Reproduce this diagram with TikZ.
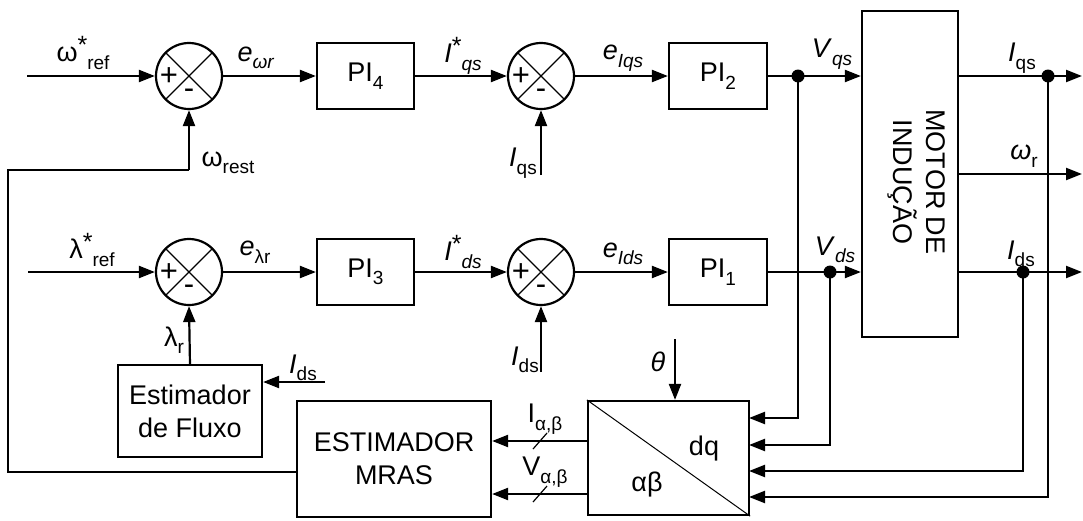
\documentclass[tikz,border=0pt]{standalone}
\usepackage{fontspec}
\setmainfont{Liberation Sans}
\usetikzlibrary{arrows.meta}
\newcommand\lsb[1]{\raisebox{-0.28em}{\fontsize{19}{19}\selectfont #1}}
\newcommand\lsp[1]{\raisebox{0.30em}{\fontsize{25}{25}\selectfont #1}}
\begin{document}
\begin{tikzpicture}[x=1pt,y=-1pt,
  line width=2.2pt,
  every node/.style={font=\fontsize{27}{33}\selectfont},
  blk/.style={draw, rectangle, inner sep=0pt, line width=2.2pt},
  sumnode/.style={draw, circle, inner sep=0pt, minimum size=66pt, line width=2.2pt},
  jdot/.style={circle, fill, inner sep=0pt, minimum size=13pt},
  arr/.style={-{Triangle[length=16pt,width=12pt]}},
  thin line/.style={line width=1.2pt},
  sgn/.style={font=\fontsize{31}{31}\selectfont, inner sep=0pt}]
\useasboundingbox (0,0) rectangle (1083,520);

% blocks
\node[blk, minimum width=97pt, minimum height=66pt] (pi4) at (365.5,76) {PI\lsb{4}};
\node[blk, minimum width=98pt, minimum height=66pt] (pi2) at (718,76) {PI\lsb{2}};
\node[blk, minimum width=97pt, minimum height=66pt] (pi3) at (365.5,272) {PI\lsb{3}};
\node[blk, minimum width=98pt, minimum height=66pt] (pi1) at (718,272) {PI\lsb{1}};
\node[blk, minimum width=96pt, minimum height=326pt] (motor) at (910,174) {};
\node[rotate=-90, align=center, inner sep=0pt] (mtxt) at (917,182) {MOTOR DE\\INDUÇÃO};
\node[blk, minimum width=144pt, minimum height=92pt, align=center] (flux) at (190,411) {Estimador\\de Fluxo};
\node[blk, minimum width=194pt, minimum height=116pt, align=center] (mras) at (394,459) {ESTIMADOR\\MRAS};
\node[blk, minimum width=161pt, minimum height=114pt] (dq) at (668.5,458) {};
\draw[line width=1pt] (dq.north west) -- (dq.south east);
\node (dqt) at (704,449) {dq};
\node (abt) at (647,485) {αβ};

% summing junctions
\foreach \n/\x/\y in {s1/189/76, s2/541/76, s3/189/272, s4/541/272}{
  \node[sumnode] (\n) at (\x,\y) {};
  \draw[thin line] (\n.45) -- (\n.225);
  \draw[thin line] (\n.135) -- (\n.315);
  \node[sgn] (\n p) at (\x-20,\y+1) {+};
  \node[sgn] (\n m) at (\x,\y+18) {-};
}

% junction dots
\node[jdot] (j1) at (798,76) {};
\node[jdot] (j2) at (830,272) {};
\node[jdot] (j3) at (1048,76) {};
\node[jdot] (j4) at (1023,272) {};

% free ends
\coordinate (in1) at (27,76);
\coordinate (in3) at (28,272);
\coordinate (iqsin) at (541,175);
\coordinate (idsin) at (541,372);
\coordinate (idsfl) at (325,382);
\coordinate (thin) at (675,339);
\coordinate (o1) at (1082,76);
\coordinate (o2) at (1082,174);
\coordinate (o3) at (1082,272);
\coordinate (p1) at (749,418);
\coordinate (p2) at (749,445);
\coordinate (p3) at (749,471);
\coordinate (p4) at (749,497);
\coordinate (fb1) at (8,472);
\coordinate (fb2) at (8,170);
\coordinate (fb3) at (189,170);
\coordinate (ia) at (588,441);
\coordinate (va) at (588,494);
\coordinate (fx) at (190,365);

% top row
\draw[arr] (in1) -- (s1.west);
\draw[arr] (s1.east) -- (pi4.west);
\draw[arr] (pi4.east) -- (s2.west);
\draw[arr] (s2.east) -- (pi2.west);
\draw[arr] (pi2.east) -- (motor.west |- pi2.east);
\draw[arr] (iqsin) -- (s2.south);
% bottom row
\draw[arr] (in3) -- (s3.west);
\draw[arr] (s3.east) -- (pi3.west);
\draw[arr] (pi3.east) -- (s4.west);
\draw[arr] (s4.east) -- (pi1.west);
\draw[arr] (pi1.east) -- (motor.west |- pi1.east);
\draw[arr] (idsin) -- (s4.south);
% motor outputs
\draw[arr] (motor.east |- o1) -- (o1);
\draw[arr] (motor.east |- o2) -- (o2);
\draw[arr] (motor.east |- o3) -- (o3);
% feedback to dq block
\draw[arr] (j1.center) |- (p1);
\draw[arr] (j2.center) |- (p2);
\draw[arr] (j4.center) |- (p3);
\draw[arr] (j3.center) |- (p4);
\draw[arr] (thin) -- (dq.north -| thin);
% dq to MRAS
\draw[arr] (ia) -- (mras.east |- ia);
\draw[arr] (va) -- (mras.east |- va);
\draw[thin line] (533,449) -- (547,433);
\draw[thin line] (533,502) -- (547,486);
% MRAS feedback
\draw (mras.west |- fb1) -- (fb1) -- (fb2) -- (fb3);
\draw[arr] (fb3) -- (s1.south);
% flux estimator
\draw[arr] (fx) -- (s3.south);
\draw[arr] (idsfl) -- (flux.east |- idsfl);

% labels
\node (l1) at (83,53) {ω\lsp{*}\lsb{ref}};
\node (l2) at (256,58) {\textit{e}\lsb{\textit{ωr}}};
\node (l3) at (463,56) {\textit{I}\lsp{*}\lsb{\textit{qs}}};
\node (l4) at (623,58) {\textit{e}\lsb{\textit{Iqs}}};
\node (l5) at (832,54) {\textit{V}\lsb{\textit{qs}}};
\node (l6) at (1022,58) {\textit{I}\lsb{qs}};
\node (l7) at (1024,156) {\textit{ω}\lsb{r}};
\node (l8) at (1021,254) {\textit{I}\lsb{ds}};
\node (l9) at (835,250) {\textit{V}\lsb{\textit{ds}}};
\node (l10) at (92,250) {λ\lsp{*}\lsb{ref}};
\node (l11) at (255,252) {\textit{e}\lsb{λr}};
\node (l12) at (463,252) {\textit{I}\lsp{*}\lsb{\textit{ds}}};
\node (l13) at (623,254) {\textit{e}\lsb{\textit{Ids}}};
\node (l14) at (228,163) {ω\lsb{rest}};
\node (l15) at (523,163) {\textit{I}\lsb{qs}};
\node (l16) at (174,340) {λ\lsb{r}};
\node (l17) at (525,360) {\textit{I}\lsb{ds}};
\node (l18) at (303,368) {\textit{I}\lsb{ds}};
\node (l19) at (658,362) {\textit{θ}};
\node (l20) at (545,419) {I\lsb{α,β}};
\node (l21) at (545,472) {V\lsb{α,β}};
\end{tikzpicture}
\end{document}
